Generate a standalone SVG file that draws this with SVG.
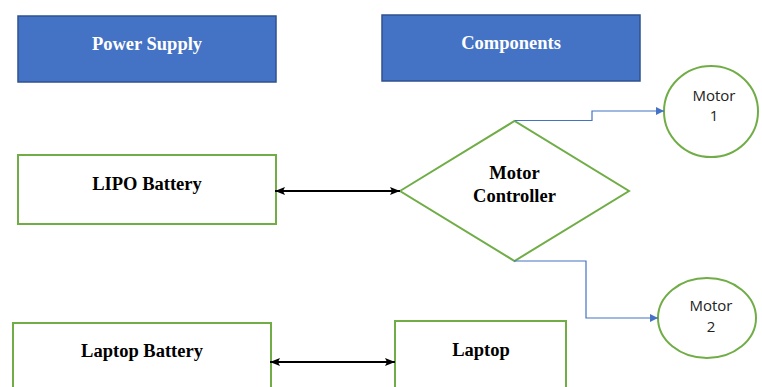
<svg xmlns="http://www.w3.org/2000/svg" width="762" height="387" viewBox="0 0 762 387">
<defs>
<style>
.hdr{fill:#4472C4;stroke:#2F528F;stroke-width:1.5}
.hdrt{font-family:"Liberation Serif",serif;font-weight:bold;font-size:18.5px;fill:#fff;text-anchor:middle}
.box{fill:#fff;stroke:#70AD47;stroke-width:2}
.bt{font-family:"Liberation Serif",serif;font-weight:bold;font-size:18.5px;fill:#000;text-anchor:middle}
.mt{font-family:"Open Sans","Liberation Sans",sans-serif;font-size:15px;fill:#222;text-anchor:middle}
.blk{fill:none;stroke:#000;stroke-width:2}
.blu{fill:none;stroke:#4472C4;stroke-width:1.2}
</style>
<marker id="ab" viewBox="0 0 10 10" refX="10" refY="5" markerWidth="10" markerHeight="8" orient="auto-start-reverse" markerUnits="userSpaceOnUse" preserveAspectRatio="none"><path d="M0,0 L10,5 L0,10 L2,5 z" fill="#000"/></marker>
<marker id="abl" viewBox="0 0 10 10" refX="10" refY="5" markerWidth="8" markerHeight="8" orient="auto" markerUnits="userSpaceOnUse"><path d="M0,0 L10,5 L0,10 z" fill="#4472C4"/></marker>
</defs>
<rect width="762" height="387" fill="#fff"/>
<g id="power-supply"><rect class="hdr" x="18" y="16" width="258" height="66"/><text class="hdrt" x="147" y="50">Power Supply</text></g>
<g id="components"><rect class="hdr" x="382" y="15" width="258" height="66"/><text class="hdrt" x="511" y="49">Components</text></g>
<g id="lipo"><rect class="box" x="18" y="155" width="258" height="69"/><text class="bt" x="147" y="190">LIPO Battery</text></g>
<g id="controller"><polygon class="box" points="400,191 514.5,121 629,191 514.5,261"/><text class="bt" x="514.5" y="179">Motor</text><text class="bt" x="514.5" y="202">Controller</text></g>
<g id="motor1"><ellipse class="box" cx="711" cy="111.5" rx="47" ry="45.5"/><text class="mt" x="714" y="101">Motor</text><text class="mt" x="714" y="121">1</text></g>
<g id="motor2"><ellipse class="box" cx="707" cy="318" rx="49" ry="40"/><text class="mt" x="711" y="311">Motor</text><text class="mt" x="711" y="332">2</text></g>
<g id="laptop-battery"><rect class="box" x="13" y="323" width="258" height="70"/><text class="bt" x="142" y="357">Laptop Battery</text></g>
<g id="laptop"><rect class="box" x="395" y="321" width="171" height="72"/><text class="bt" x="481" y="356">Laptop</text></g>
<g id="connectors">
<line class="blk" x1="275" y1="191" x2="400" y2="191" marker-start="url(#ab)" marker-end="url(#ab)"/>
<line class="blk" x1="270" y1="362" x2="395" y2="362" marker-start="url(#ab)" marker-end="url(#ab)"/>
<polyline class="blu" points="515,120.5 592,120.5 592,111 664,111" marker-end="url(#abl)"/>
<polyline class="blu" points="514,261 586,261 586,318 658,318" marker-end="url(#abl)"/>
</g>
</svg>
